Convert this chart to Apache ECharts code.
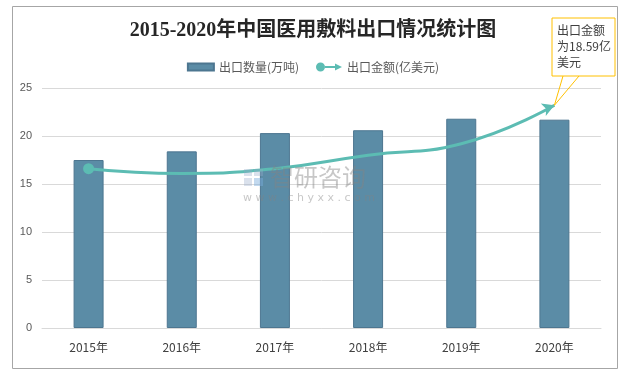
<!DOCTYPE html>
<html><head><meta charset="utf-8">
<script src="https://cdn.jsdelivr.net/npm/echarts@6/dist/echarts.min.js"></script>
<style>html,body{margin:0;padding:0;background:#fff}#c{width:626px;height:371px}</style>
</head><body><div id="c"></div>
<script>
const categories = ['2015年','2016年','2017年','2018年','2019年','2020年'];
const exportVolume = [17.5, 18.4, 20.3, 20.6, 21.8, 21.7];
const exportValueLine = [16.6, 16.1, 16.6, 18.0, 19.2, 23.2];
const yTicks = [0, 5, 10, 15, 20, 25];
const calloutLines = ['出口金额', '为18.59亿', '美元'];

const chart = echarts.init(document.getElementById('c'), null, {renderer: 'canvas'});
const lineData = exportValueLine.map((v, i) => {
  if (i === 0) return {value: v, symbol: 'circle', symbolSize: 11};
  if (i === exportValueLine.length - 1) return {value: v, symbol: 'arrow', symbolSize: [10, 12], symbolRotate: -68};
  return {value: v, symbol: 'none'};
});
const option = {
  animation: false,
  title: {
    text: '2015-2020年中国医用敷料出口情况统计图',
    left: 'center', top: 16,
    textStyle: {fontFamily: '"Liberation Serif", "Noto Sans CJK SC"', fontWeight: 'bold', fontSize: 20, color: '#262626'}
  },
  legend: {
    left: 'center', top: 56, itemGap: 17, itemWidth: 26, itemHeight: 9,
    textStyle: {fontSize: 12, color: '#595959', fontFamily: '"Noto Sans CJK SC"'},
    data: [
      {name: '出口数量(万吨)', icon: 'path://M0,1 L26,1 L26,8 L0,8 Z'},
      {name: '出口金额(亿美元)', icon: 'path://M0,4.5 a4.5,4.5 0 1,0 9,0 a4.5,4.5 0 1,0 -9,0 Z M9,3.5 L20,3.5 L20,5.5 L9,5.5 Z M19,1 L26,4.5 L19,8 Z'}
    ]
  },
  grid: {left: 42, right: 25, top: 88, bottom: 43},
  xAxis: {
    type: 'category', data: categories,
    axisLine: {lineStyle: {color: '#D9D9D9'}},
    axisTick: {show: false},
    axisLabel: {fontSize: 12, color: '#404040', margin: 13, fontFamily: '"Noto Sans CJK SC"'}
  },
  yAxis: {
    type: 'value', min: 0, max: 25, interval: 5,
    axisLabel: {fontSize: 11, color: '#595959', margin: 10, formatter: v => yTicks.includes(v) ? String(v) : ''},
    splitLine: {lineStyle: {color: '#D9D9D9'}},
    axisLine: {show: false}, axisTick: {show: false}
  },
  series: [
    {name: '出口数量(万吨)', type: 'bar', data: exportVolume, barWidth: 30,
     itemStyle: {color: '#5B8CA6', borderColor: '#4D7690', borderWidth: 1}},
    {name: '出口金额(亿美元)', type: 'line', data: lineData, smooth: 0.5,
     lineStyle: {color: '#5CBCB3', width: 3},
     itemStyle: {color: '#5CBCB3'}, z: 5}
  ]
};
chart.setOption(option);

const tip = chart.convertToPixel({seriesIndex: 1}, [exportValueLine.length - 1, exportValueLine[exportValueLine.length - 1]]);
const bx = 552, by = 18, bw = 63, bh = 58;
chart.setOption({
  graphic: [
    {type: 'rect', left: 10, top: 4, shape: {x: 0, y: 0, width: 605, height: 362}, style: {fill: 'none', stroke: '#A6A6A6', lineWidth: 1}, silent: true, z: -10},
    // watermark
    {type: 'rect', shape: {x: 244, y: 169, width: 8, height: 7}, style: {fill: 'rgba(150,170,200,0.35)'}, z: 100},
    {type: 'rect', shape: {x: 254, y: 169, width: 9, height: 7}, style: {fill: 'rgba(150,170,200,0.35)'}, z: 100},
    {type: 'rect', shape: {x: 244, y: 178, width: 8, height: 8}, style: {fill: 'rgba(150,170,200,0.35)'}, z: 100},
    {type: 'rect', shape: {x: 254, y: 178, width: 9, height: 8}, style: {fill: 'rgba(120,170,220,0.45)'}, z: 100},
    {type: 'text', x: 270, y: 165, style: {text: '智研咨询', font: '24px "Noto Sans CJK SC"', fill: 'rgba(130,130,130,0.45)'}, z: 100},
    {type: 'text', x: 243, y: 193, style: {text: 'w w w . c h y x x . c o m', font: '11px "DejaVu Sans"', fill: 'rgba(130,130,130,0.45)'}, z: 100},
    // callout
    {type: 'polyline', shape: {points: [[bx + 11, by + bh], [tip[0], tip[1]], [bx + 27, by + bh]]}, style: {stroke: '#FFC000', fill: 'none', lineWidth: 1}, z: 20},
    {type: 'rect', shape: {x: bx, y: by, width: bw, height: bh}, style: {fill: '#fff', stroke: '#FFC000', lineWidth: 1}, z: 21},
    {type: 'text', x: bx + 5, y: by + 4, style: {text: calloutLines.join('\n'), font: '12px "Noto Sans CJK SC"', lineHeight: 16, fill: '#404040'}, z: 22}
  ]
});
</script></body></html>
